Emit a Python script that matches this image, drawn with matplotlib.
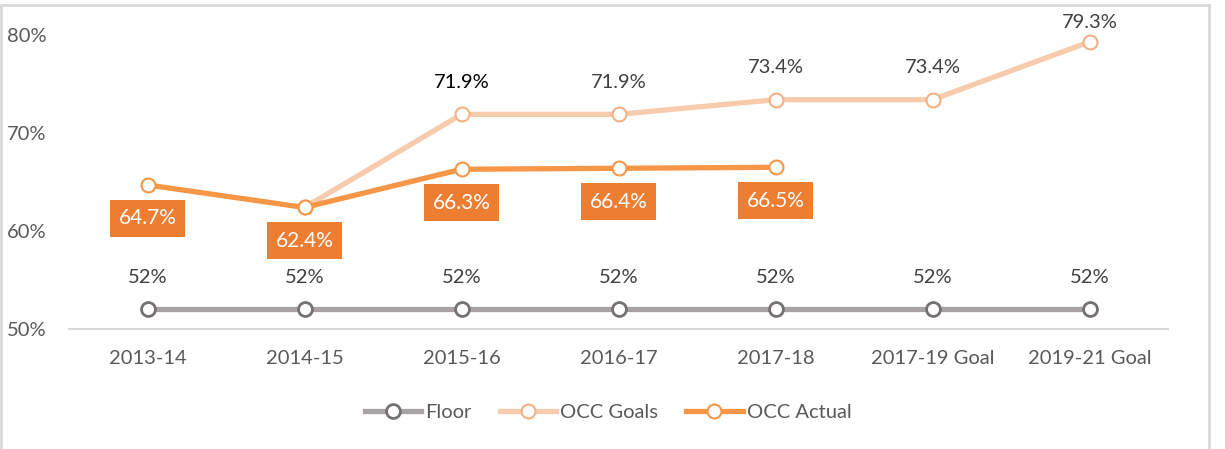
import numpy as np
import matplotlib.pyplot as plt
from matplotlib.patches import Rectangle

plt.rcParams['font.family'] = ['Lato', 'DejaVu Sans']

categories = ['2013-14', '2014-15', '2015-16', '2016-17', '2017-18', '2017-19 Goal', '2019-21 Goal']
floor = [52, 52, 52, 52, 52, 52, 52]
occ_goals = [np.nan, 62.4, 71.9, 71.9, 73.4, 73.4, 79.3]
occ_actual = [64.7, 62.4, 66.3, 66.4, 66.5, np.nan, np.nan]

fig = plt.figure(figsize=(12.25, 4.49), dpi=100)
ax = fig.add_axes([69 / 1225, 1 - 329 / 449, 1099 / 1225, 294 / 449])
fig.patches.append(Rectangle((1 / 1225, -0.1), 1208 / 1225, 1 - 5 / 449 + 0.1,
                             transform=fig.transFigure, fill=False,
                             edgecolor='#D9D9D9', linewidth=2))

x = np.arange(len(categories))
txt = '#595959'
fs = 14.5

ax.plot(x, floor, color='#A8A3A3', lw=3.8, marker='o', ms=10,
        mfc='white', mec='#767171', mew=2, label='Floor', clip_on=False, zorder=3)
ax.plot(x, occ_goals, color='#F8CBAD', lw=3.8, marker='o', ms=10,
        mfc='white', mec='#F4B183', mew=1.5, label='OCC Goals', clip_on=False, zorder=3)
ax.plot(x, occ_actual, color='#F79646', lw=3.8, marker='o', ms=10,
        mfc='white', mec='#F79646', mew=1.5, label='OCC Actual', clip_on=False, zorder=4)

for i, v in enumerate(floor):
    ax.annotate(f'{v}%', (i, v), xytext=(0, 23), textcoords='offset points',
                ha='center', va='center', fontsize=fs, color='#404040')
for i, v in enumerate(occ_goals):
    if i >= 2:
        off = 14 if i == 6 else 23
        ax.annotate(f'{v}%', (i, v), xytext=(0, off), textcoords='offset points',
                    ha='center', va='center', fontsize=fs,
                    color='#000000' if i == 2 else '#404040', annotation_clip=False)
for i, v in enumerate(occ_actual):
    if not np.isnan(v):
        ax.annotate(f'{v}%', (i, v), xytext=(0, -24), textcoords='offset points',
                    ha='center', va='center', fontsize=15, color='white',
                    bbox=dict(boxstyle='square,pad=0.4', fc='#ED7D31', ec='none'))

ax.set_xlim(-0.5, len(categories) - 0.5)
ax.set_ylim(50, 80)
ax.set_yticks([50, 60, 70, 80])
ax.set_yticklabels(['50%', '60%', '70%', '80%'])
ax.set_xticks(x)
ax.set_xticklabels(categories)
ax.tick_params(axis='both', length=0, labelsize=fs, labelcolor=txt)
ax.tick_params(axis='x', pad=15)
ax.tick_params(axis='y', pad=16)
for s in ['top', 'right', 'left']:
    ax.spines[s].set_visible(False)
ax.spines['bottom'].set_color('#D9D9D9')
ax.spines['bottom'].set_linewidth(1.5)

leg = fig.legend(loc='center', bbox_to_anchor=(608 / 1225, 1 - 412 / 449), ncol=3,
                 frameon=False, fontsize=fs, handlelength=2.8, columnspacing=1.4,
                 handletextpad=0.2)
for t in leg.get_texts():
    t.set_color(txt)

fig.savefig('out.png', dpi=100)
